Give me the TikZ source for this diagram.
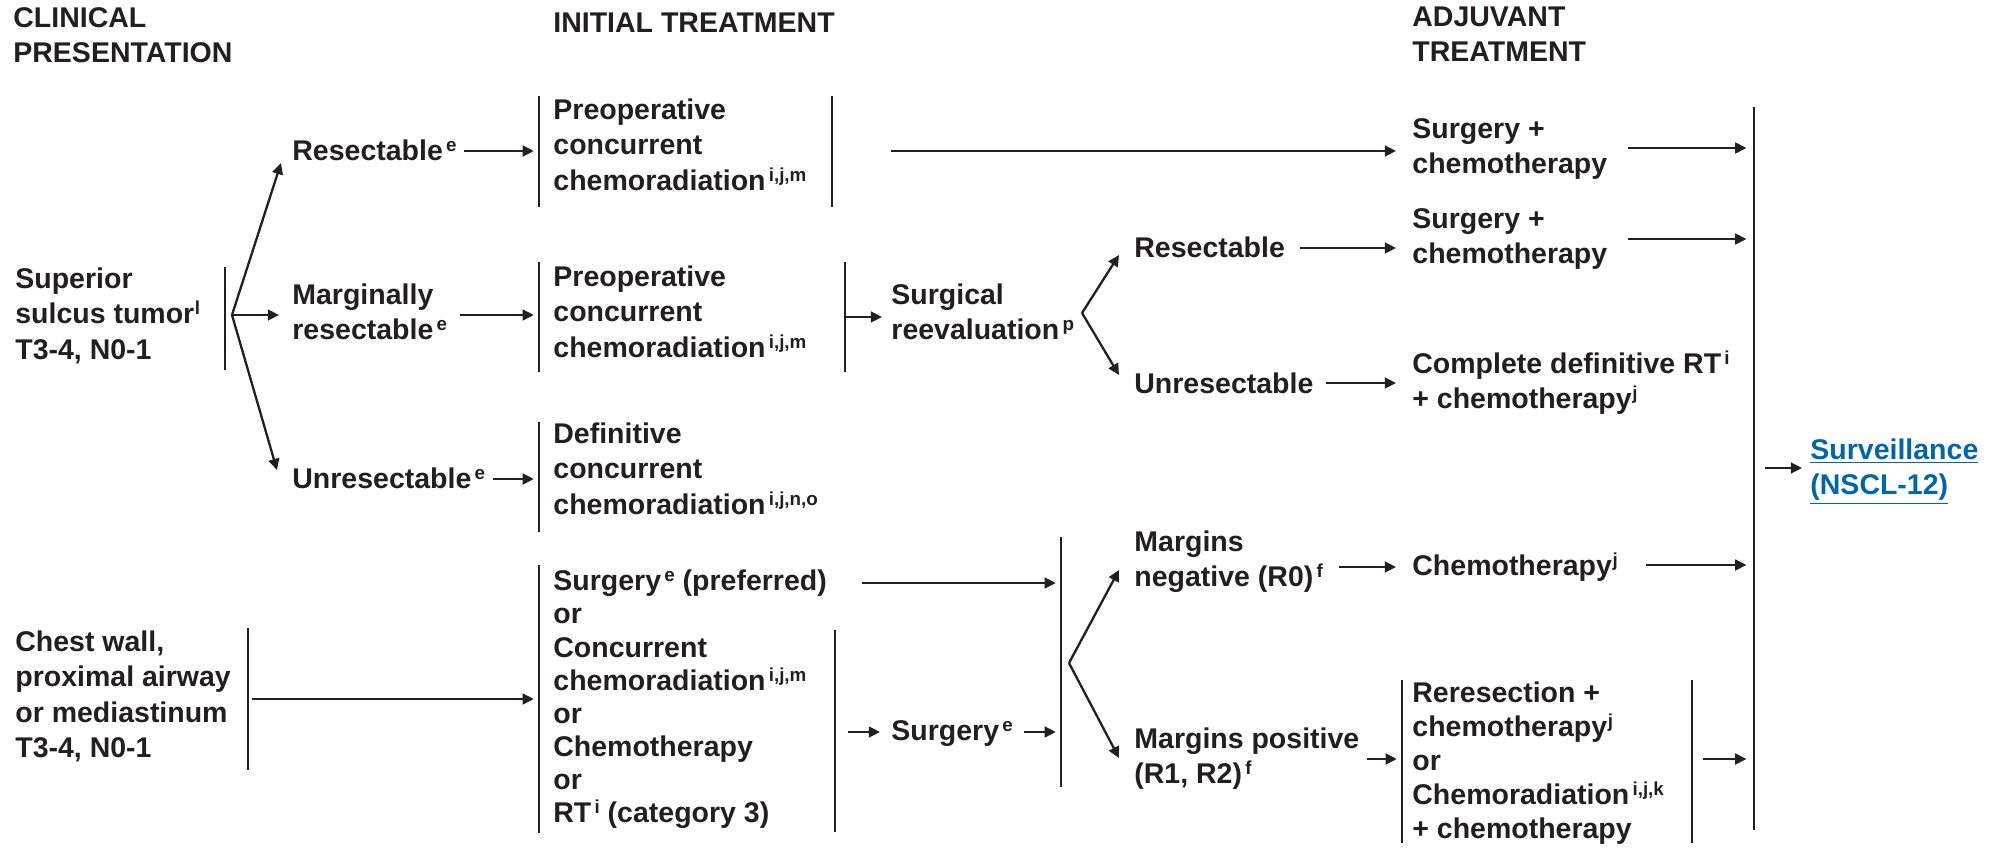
\documentclass[tikz,border=0pt]{standalone}
\usepackage{fontspec}
\setmainfont{Liberation Sans}
\usetikzlibrary{arrows.meta,calc}

\definecolor{ink}{RGB}{35,31,32}
\definecolor{linkblue}{RGB}{0,102,170}

% footnote markers: with a small gap (\sps) or tight (\spn)
\newcommand\sps[1]{\kern1.6pt\raisebox{4.5pt}{\fontsize{9.4}{9.4}\selectfont #1}}
\newcommand\spn[1]{\kern0.3pt\raisebox{4.5pt}{\fontsize{9.4}{9.4}\selectfont #1}}

\begin{document}
\begin{tikzpicture}[
  x=0.5pt, y=-0.5pt,
  % each text block is placed by the baseline of its first line:
  % a strut fixes the height of that line at 0.7\baselineskip
  txtbase/.style={anchor=north west, inner sep=0pt, align=left, text=ink,
              execute at begin node=\strut},
  txt/.style={txtbase, font=\bfseries\fontsize{14.25}{17.75}\selectfont, yshift=12.425pt},
  txtor/.style={txtbase, font=\bfseries\fontsize{14.25}{16.55}\selectfont, yshift=11.585pt},
  txtre/.style={txtbase, font=\bfseries\fontsize{14.25}{17.1}\selectfont, yshift=11.97pt},
  bar/.style={draw=ink, line width=1.15pt},
  arr/.style={draw=ink, line width=1.15pt, -{Triangle[length=5.6pt,width=5.4pt]}},
  tobar/.style={arr, shorten >=2.6pt},
  tobig/.style={arr, shorten >=3.8pt}
]
\fill[white] (0,0) rectangle (2001,850);
\useasboundingbox (0,0) rectangle (2001,850);

% ---------- column headers ----------
\node[txt] (hclin) at (13,32) {CLINICAL\\PRESENTATION};
\node[txt] (hinit) at (553,32) {INITIAL TREATMENT};
\node[txt] (hadj)  at (1412,31) {ADJUVANT\\TREATMENT};

% ---------- clinical presentation ----------
\node[txt] (sst) at (15,292) {Superior\\sulcus tumor\spn{l}\\T3-4, N0-1};
\node[txt] (cw)  at (15,655) {Chest wall,\\proximal airway\\or mediastinum\\T3-4, N0-1};

% ---------- resectability ----------
\node[txt] (res1)   at (292,160) {Resectable\sps{e}};
\node[txt] (marg)   at (292,308) {Marginally\\resectable\sps{e}};
\node[txt] (unres1) at (292,488) {Unresectable\sps{e}};

% ---------- initial treatment ----------
\node[txt] (pre1)  at (553,123) {Preoperative\\concurrent\\chemoradiation\sps{i,j,m}};
\node[txt] (pre2)  at (553,290) {Preoperative\\concurrent\\chemoradiation\sps{i,j,m}};
\node[txt] (defin) at (553,447) {Definitive\\concurrent\\chemoradiation\sps{i,j,n,o}};
\node[txtor] (alt) at (553,593) {Surgery\sps{e} (preferred)\\or\\Concurrent\\chemoradiation\sps{i,j,m}\\or\\Chemotherapy\\or\\RT\sps{i} (category 3)};

\node[txt] (reeval) at (891,308) {Surgical\\reevaluation\sps{p}};
\node[txt] (surg)   at (891,740) {Surgery\sps{e}};

\node[txt] (res2)   at (1134,257) {Resectable};
\node[txt] (unres2) at (1134,393) {Unresectable};
\node[txt] (mneg)   at (1134,555) {Margins\\negative (R0)\sps{f}};
\node[txt] (mpos)   at (1134,752) {Margins positive\\(R1, R2)\sps{f}};

% ---------- adjuvant treatment ----------
\node[txt] (adj1) at (1412,143) {Surgery +\\chemotherapy};
\node[txt] (adj2) at (1412,233) {Surgery +\\chemotherapy};
\node[txt] (adj3) at (1412,375) {Complete definitive RT\sps{i}\\+ chemotherapy\spn{j}};
\node[txt] (adj4) at (1412,575) {Chemotherapy\spn{j}};
\node[txtre] (adj5) at (1412,705) {Reresection +\\chemotherapy\spn{j}\\or\\Chemoradiation\sps{i,j,k}\\+ chemotherapy};

\node[txt, text=linkblue] (surv) at (1810,463) {\underline{Surveillance}\\\underline{(NSCL-12)}};

% ---------- vertical bars ----------
\coordinate (bA1) at (225,267);   \coordinate (bA2) at (225,370);
\coordinate (bB1) at (539,96);    \coordinate (bB2) at (539,207);
\coordinate (bC1) at (832,96);    \coordinate (bC2) at (832,207);
\coordinate (bD1) at (539,262);   \coordinate (bD2) at (539,372);
\coordinate (bE1) at (845,262);   \coordinate (bE2) at (845,372);
\coordinate (bF1) at (539,422);   \coordinate (bF2) at (539,532);
\coordinate (bG1) at (248,628);   \coordinate (bG2) at (248,770);
\coordinate (bH1) at (539,565);   \coordinate (bH2) at (539,833);
\coordinate (bI1) at (835,630);   \coordinate (bI2) at (835,832);
\coordinate (bJ1) at (1061,537);  \coordinate (bJ2) at (1061,787);
\coordinate (bK1) at (1402,680);  \coordinate (bK2) at (1402,843);
\coordinate (bL1) at (1692,680);  \coordinate (bL2) at (1692,843);
\coordinate (big1) at (1754,107); \coordinate (big2) at (1754,830);
\foreach \b in {bA,bB,bC,bD,bE,bF,bG,bH,bI,bJ,bK,bL,big}
  \draw[bar] (\b1) -- (\b2);

% ---------- connectors ----------
% superior sulcus fork
\coordinate (fork1) at (232,315);
\coordinate (tRes1)   at (281,163);
\coordinate (tMarg)   at (279,315);
\coordinate (tUnres1) at (277,470);
\draw[arr] (fork1) -- (tRes1);
\draw[arr] (fork1) -- (tMarg);
\draw[arr] (fork1) -- (tUnres1);

\coordinate (oRes1)   at (464,151);
\coordinate (oMarg)   at (460,315);
\coordinate (oUnres1) at (493,479);
\draw[tobar] (oRes1) -- (oRes1 -| bB1);
\draw[tobar] (oMarg) -- (oMarg -| bD1);
\draw[tobar] (oUnres1) -- (oUnres1 -| bF1);

% preoperative -> surgery + chemotherapy
\coordinate (oPre1) at (891,151);
\coordinate (iAdj1) at (1396,151);
\draw[arr] (oPre1) -- (iAdj1);

% preoperative -> surgical reevaluation
\coordinate (oPre2) at (846,317);
\coordinate (iReev) at (882,317);
\draw[arr] (oPre2) -- (iReev);

% surgical reevaluation fork
\coordinate (fork2)   at (1082,313);
\coordinate (tRes2)   at (1119,255);
\coordinate (tUnres2) at (1119,375);
\draw[arr] (fork2) -- (tRes2);
\draw[arr] (fork2) -- (tUnres2);

\coordinate (oRes2)   at (1300,248);
\coordinate (iAdj2)   at (1396,248);
\coordinate (oUnres2) at (1326,383);
\coordinate (iAdj3)   at (1396,383);
\draw[arr] (oRes2) -- (iAdj2);
\draw[arr] (oUnres2) -- (iAdj3);

% adjuvant -> surveillance bar
\coordinate (oAdj1) at (1628,148);
\coordinate (oAdj2) at (1628,239);
\coordinate (oAdj4) at (1646,565);
\coordinate (oAdj5) at (1703,759);
\draw[tobig] (oAdj1) -- (oAdj1 -| big1);
\draw[tobig] (oAdj2) -- (oAdj2 -| big1);
\draw[tobig] (oAdj4) -- (oAdj4 -| big1);
\draw[tobig] (oAdj5) -- (oAdj5 -| big1);

\coordinate (oBig)  at (1765,468);
\coordinate (iSurv) at (1802,468);
\draw[arr] (oBig) -- (iSurv);

% chest wall branch
\coordinate (oCw) at (252,699);
\draw[tobar] (oCw) -- (oCw -| bH1);

\coordinate (oAlt) at (862,583);
\draw[tobar] (oAlt) -- (oAlt -| bJ1);

\coordinate (oAlt2) at (848,732);
\coordinate (iSurg) at (880,732);
\draw[arr] (oAlt2) -- (iSurg);

\coordinate (oSurg) at (1024,732);
\draw[tobar] (oSurg) -- (oSurg -| bJ1);

% margins fork
\coordinate (fork3) at (1069,663);
\coordinate (tMneg) at (1119,570);
\coordinate (tMpos) at (1119,758);
\draw[arr] (fork3) -- (tMneg);
\draw[arr] (fork3) -- (tMpos);

\coordinate (oMneg) at (1339,567);
\coordinate (iAdj4) at (1396,567);
\draw[arr] (oMneg) -- (iAdj4);

\coordinate (oMpos) at (1367,759);
\draw[tobar] (oMpos) -- (oMpos -| bK1);

\end{tikzpicture}
\end{document}
